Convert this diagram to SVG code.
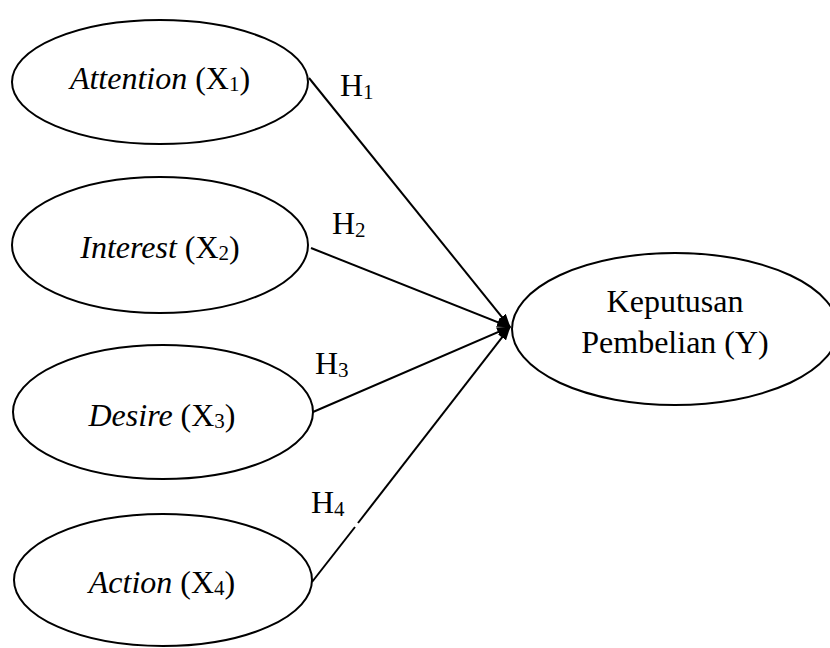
<svg xmlns="http://www.w3.org/2000/svg" width="830" height="648" viewBox="0 0 830 648">
<style>
.node ellipse{fill:#fff;stroke:#000;stroke-width:2}
text{font-family:"Liberation Serif","Times New Roman",serif;font-size:32px;fill:#000}
.it{font-style:italic}
.sub{font-size:21px}
.conn line{stroke:#000;stroke-width:2}
.conn .arr{marker-end:url(#ah)}
</style>
<defs>
<marker id="ah" markerUnits="userSpaceOnUse" markerWidth="14" markerHeight="10" refX="13" refY="5" orient="auto">
<path d="M0,0 L14,5 L0,10 z" fill="#000"/>
</marker>
</defs>
<rect width="830" height="648" fill="#fff"/>
<g id="n1" class="node">
<ellipse cx="160" cy="82" rx="148" ry="62"/>
<text x="160" y="89" text-anchor="middle"><tspan class="it">Attention</tspan> (X<tspan class="sub" dy="2">1</tspan><tspan dy="-2">)</tspan></text>
</g>
<g id="n2" class="node">
<ellipse cx="160" cy="245" rx="148" ry="68"/>
<text x="160" y="258" text-anchor="middle"><tspan class="it">Interest</tspan> (X<tspan class="sub" dy="2">2</tspan><tspan dy="-2">)</tspan></text>
</g>
<g id="n3" class="node">
<ellipse cx="163" cy="412" rx="150" ry="67"/>
<text x="162" y="426" text-anchor="middle"><tspan class="it">Desire</tspan> (X<tspan class="sub" dy="2">3</tspan><tspan dy="-2">)</tspan></text>
</g>
<g id="n4" class="node">
<ellipse cx="163" cy="580" rx="149" ry="66"/>
<text x="162" y="593" text-anchor="middle"><tspan class="it">Action</tspan> (X<tspan class="sub" dy="2">4</tspan><tspan dy="-2">)</tspan></text>
</g>
<g id="y" class="node">
<ellipse cx="675" cy="329" rx="163" ry="76"/>
<text x="675" y="312" text-anchor="middle">Keputusan</text>
<text x="675" y="353" text-anchor="middle">Pembelian (Y)</text>
</g>
<g id="connectors" class="conn">
<line class="arr" x1="309" y1="78" x2="510" y2="327"/>
<line class="arr" x1="311" y1="248" x2="510" y2="327"/>
<line class="arr" x1="313" y1="412" x2="510" y2="327"/>
<line x1="312" y1="582" x2="355" y2="527"/>
<line class="arr" x1="358" y1="523" x2="510" y2="327"/>
</g>
<g id="labels">
<text x="340" y="96">H<tspan class="sub" dy="3">1</tspan></text>
<text x="332" y="234">H<tspan class="sub" dy="3">2</tspan></text>
<text x="315" y="374">H<tspan class="sub" dy="3">3</tspan></text>
<text x="311" y="513">H<tspan class="sub" dy="3">4</tspan></text>
</g>
</svg>
